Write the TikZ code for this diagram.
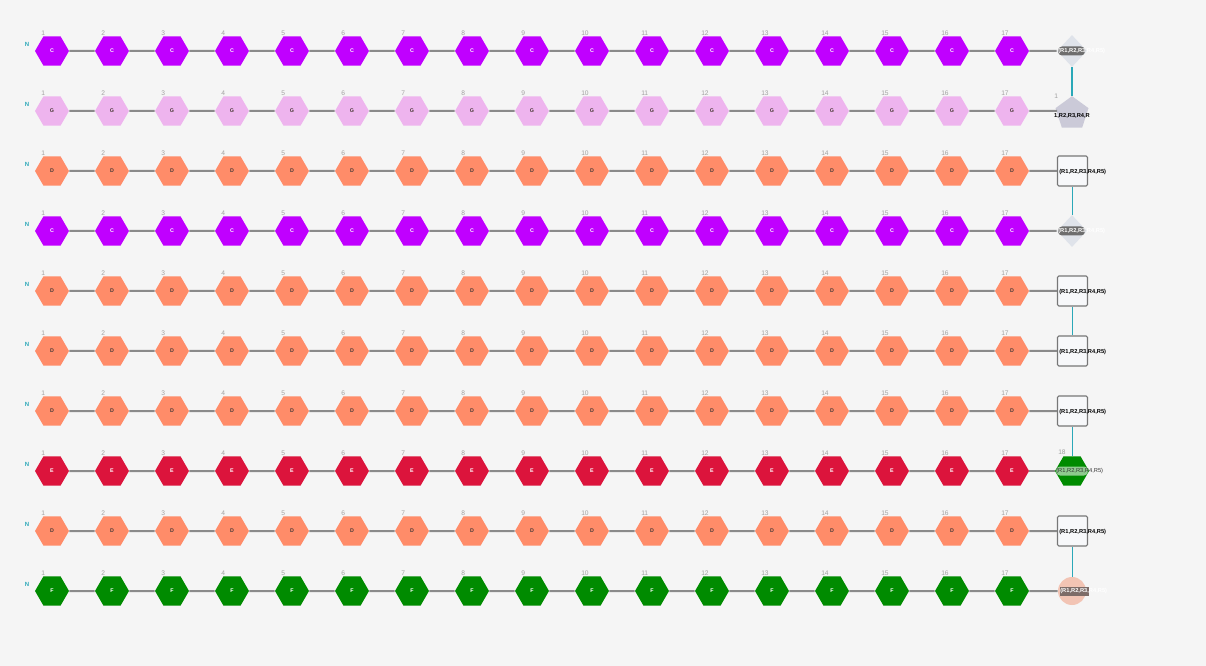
\documentclass[tikz,border=0pt]{standalone}
\usepackage{fontspec}
\setmainfont{Liberation Sans}
\usetikzlibrary{shapes.geometric}
\definecolor{bg}{HTML}{F5F5F5}
\definecolor{cpurple}{HTML}{C000FF}
\definecolor{cpink}{HTML}{EEB4EE}
\definecolor{csalmon}{HTML}{FF8C69}
\definecolor{cred}{HTML}{DC143C}
\definecolor{cgreen}{HTML}{008B00}
\definecolor{clink}{HTML}{8A8A8A}
\definecolor{cteal}{HTML}{2AA8B8}
\definecolor{cnum}{HTML}{A0A0A0}
\definecolor{cdiam}{HTML}{DFE3EA}
\definecolor{cpent}{HTML}{CBCAD8}
\definecolor{cbox}{HTML}{F7F8FA}
\definecolor{cboxline}{HTML}{777777}
\definecolor{ccirc}{HTML}{F2C4B4}
\definecolor{clabbg}{HTML}{6E6E6E}
\definecolor{ccircbg}{HTML}{7D6C68}
\definecolor{cgreenbg}{HTML}{8FCB8F}
\definecolor{cdark}{HTML}{4A3A36}
\tikzset{
  hexa/.style={regular polygon, regular polygon sides=6, minimum size=25.5pt, inner sep=0pt, draw=none, font=\fontsize{4}{4}\selectfont\bfseries},
  link/.style={draw=clink, line width=1.5pt},
  vlink/.style={draw=cteal, line width=0.9pt},
  numlab/.style={text=cnum, font=\fontsize{5}{5}\selectfont, inner sep=0pt, anchor=west},
  nlab/.style={text=cteal, font=\fontsize{4.5}{4.5}\selectfont\bfseries, inner sep=0pt},
  termlab/.style={font=\fontsize{4.3}{4.3}\selectfont\bfseries, inner sep=0pt, anchor=west},
  diam/.style={diamond, fill=cdiam, minimum width=22.5pt, minimum height=24pt, inner sep=0pt},
  sqbox/.style={rectangle, fill=cbox, draw=cboxline, line width=0.8pt, rounded corners=1pt, minimum size=22.5pt, inner sep=0pt},
  pent/.style={regular polygon, regular polygon sides=5, fill=cpent, minimum size=26pt, inner sep=0pt},
  circ/.style={circle, fill=ccirc, minimum size=21pt, inner sep=0pt},
}
\begin{document}
\begin{tikzpicture}[x=0.75pt,y=-0.75pt]
\fill[bg] (0,0) rectangle (1206,666);
\useasboundingbox (0,0) rectangle (1206,666);
\foreach \r/\fc/\tc/\L in {1/cpurple/white/C,2/cpink/cdark/G,3/csalmon/cdark/D,4/cpurple/white/C,5/csalmon/cdark/D,6/csalmon/cdark/D,7/csalmon/cdark/D,8/cred/white/E,9/csalmon/cdark/D,10/cgreen/white/F}{
  \pgfmathsetmacro{\y}{51+60*(\r-1)}
  \node[nlab] (n\r) at (27,{\y-7}) {N};
  \foreach \i in {1,...,17}{
    \node[hexa, fill=\fc, text=\tc] (h\r-\i) at ({52+60*(\i-1)},\y) {\L};
    \node[numlab] (l\r-\i) at ({41+60*(\i-1)},{\y-18}) {\i};
  }
  \foreach \i [evaluate=\i as \j using int(\i+1)] in {1,...,16}{
    \draw[link] (h\r-\i) -- (h\r-\j);
  }
}
% terminals
\node[diam] (t1) at (1072,51) {};
\node[pent] (t2) at (1072,113.5) {};
\coordinate (t2in) at (1057,111);
\node[sqbox] (t3) at (1072.5,171) {};
\node[diam] (t4) at (1072,231) {};
\node[sqbox] (t5) at (1072.5,291) {};
\node[sqbox] (t6) at (1072.5,351) {};
\node[sqbox] (t7) at (1072.5,411) {};
\node[hexa, fill=cgreen] (t8) at (1072,471) {};
\node[sqbox] (t9) at (1072.5,531) {};
\node[circ] (t10) at (1072,591) {};
\foreach \r in {1,3,4,5,6,7,8,9,10}{
  \draw[link] (h\r-17) -- (t\r);
}
\draw[link] (h2-17) -- (t2in);
\foreach \a/\b in {1/2,3/4,5/6,7/8,9/10}{
  \draw[vlink] (t\a.center |- t\a.south) -- (t\a.center |- t\b.north);
}
% terminal labels
\fill[clabbg, rounded corners=3pt] (1058,46.5) rectangle (1085,55.5);
\node[termlab, text=white] (x1) at (1058,51) {(R1,R2,R3,R4,R5)};
\node[numlab] (x2n) at (1054,96) {1};
\node[font=\fontsize{4.3}{4.3}\selectfont\bfseries, inner sep=0pt] (x2) at (1072,115.5) {1,R2,R3,R4,R};
\node[termlab] (x3) at (1059,172) {(R1,R2,R3,R4,R5)};
\fill[clabbg, rounded corners=3pt] (1058,226.5) rectangle (1085,235.5);
\node[termlab, text=white] (x4) at (1058,231) {(R1,R2,R3,R4,R5)};
\node[termlab] (x5) at (1059,292) {(R1,R2,R3,R4,R5)};
\node[termlab] (x6) at (1059,352) {(R1,R2,R3,R4,R5)};
\node[termlab] (x7) at (1059,412) {(R1,R2,R3,R4,R5)};
\node[numlab] (x8n) at (1058,452) {18};
\fill[cgreenbg, rounded corners=3pt] (1056,466.5) rectangle (1088,475.5);
\node[termlab, text=black!80, font=\fontsize{4.3}{4.3}\selectfont] (x8) at (1056,471) {(R1,R2,R3,R4,R5)};
\node[termlab] (x9) at (1059,532) {(R1,R2,R3,R4,R5)};
\fill[ccircbg] (1060,586.5) rectangle (1089,595.5);
\node[termlab, text=white] (x10) at (1060,591) {(R1,R2,R3,R4,R5)};
\end{tikzpicture}
\end{document}
